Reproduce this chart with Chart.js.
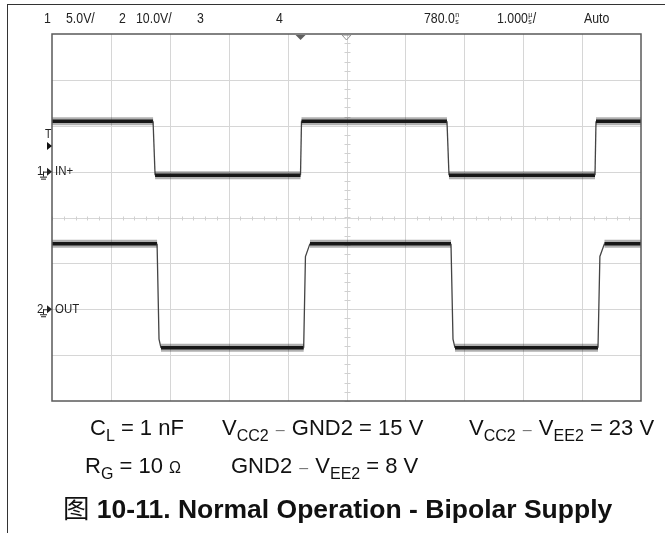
<!DOCTYPE html>
<html>
<head>
<meta charset="utf-8">
<script src="https://cdn.jsdelivr.net/npm/chart.js@4.4.1/dist/chart.umd.min.js"></script>
<style>
  html, body { margin: 0; padding: 0; background: #fff; }
  #wrap { position: relative; width: 665px; height: 533px; overflow: hidden; }
  #scope { position: absolute; left: 0; top: 0; }
  .note { position: absolute; font-family: "Liberation Sans", Arial, sans-serif; font-size: 22px; color: #111; white-space: nowrap; line-height: 1; }
  .note sub { font-size: 16px; vertical-align: -6px; line-height: 0; }
  .note .dash { color: #777; font-size: 16px; margin: 0 1px; }
  .note .ohm { font-size: 16px; }
  .caption { position: absolute; left: 63px; top: 494px; font-family: "Liberation Sans", Arial, sans-serif; font-weight: bold; font-size: 26.5px; color: #111; white-space: nowrap; line-height: 1; }
  .caption .cjk { font-family: "Noto Sans CJK SC", sans-serif; font-weight: normal; }
  .frame-l { position: absolute; left: 7px; top: 4px; width: 1px; height: 529px; background: #333; }
  .frame-t { position: absolute; left: 7px; top: 4px; width: 658px; height: 1px; background: #333; }
</style>
</head>
<body>
<div id="wrap">
  <div class="frame-l"></div>
  <div class="frame-t"></div>
  <canvas id="scope" width="665" height="533"></canvas>
  <div class="note" style="left:90px; top:417px;">C<sub>L</sub> = 1 nF</div>
  <div class="note" style="left:222px; top:417px;">V<sub>CC2</sub> <span class="dash">–</span> GND2 = 15 V</div>
  <div class="note" style="left:469px; top:417px;">V<sub>CC2</sub> <span class="dash">–</span> V<sub>EE2</sub> = 23 V</div>
  <div class="note" style="left:85px; top:455px;">R<sub>G</sub> = 10 <span class="ohm">Ω</span></div>
  <div class="note" style="left:231px; top:455px;">GND2 <span class="dash">–</span> V<sub>EE2</sub> = 8 V</div>
  <div class="caption"><span class="cjk">图</span> 10-11. Normal Operation - Bipolar Supply</div>
</div>
<script>
// channel settings (V/div and ground offset in divisions)
const ch1VoltsPerDiv = 5;
const ch1OffsetDiv = 1;
const ch2VoltsPerDiv = 10;
const ch2OffsetDiv = -2;

// time base: 1 us/div, trigger delay
const timeMin = -5;
const timeMax = 5;
const triggerDelayUs = -0.78;

// IN+ (channel 1), time in us, level in V
const inTime  = [-5, -3.284, -3.250, -0.781, -0.764, 1.706, 1.740, 4.219, 4.236, 5];
const inVolts = [5.5, 5.5, -0.4, -0.4, 5.5, 5.5, -0.4, -0.4, 5.5, 5.5];

// OUT (channel 2)
const outTime  = [-5, -3.216, -3.183, -3.150, -0.727, -0.697, -0.620, 1.774, 1.808, 1.842, 4.270, 4.302, 4.380, 5];
const outVolts = [14.3, 14.3, -6.5, -8.4, -8.4, 11.5, 14.3, 14.3, -6.5, -8.4, -8.4, 11.5, 14.3, 14.3];

// header readout
const headerItems = [
  { text: '1', x: 44 }, { text: '5.0V/', x: 66 },
  { text: '2', x: 119 }, { text: '10.0V/', x: 136 },
  { text: '3', x: 197 }, { text: '4', x: 276 },
  { text: '780.0', x: 424, unit: ['n', 's'] },
  { text: '1.000', x: 497, unit: ['µ', 's'], tail: '/' },
  { text: 'Auto', x: 584 }
];

const toPoints = (t, v, vdiv, off) => t.map((x, i) => ({ x: x, y: v[i] / vdiv + off }));
const inPts = toPoints(inTime, inVolts, ch1VoltsPerDiv, ch1OffsetDiv);
const outPts = toPoints(outTime, outVolts, ch2VoltsPerDiv, ch2OffsetDiv);

const isEdge = c => Math.abs(c.p0.parsed.y - c.p1.parsed.y) > 0.05;

function trace(pts, halo) {
  return {
    data: pts,
    borderColor: halo ? 'rgba(30,30,30,0.35)' : '#151515',
    borderWidth: halo ? 8 : 3.5,
    pointRadius: 0,
    tension: 0,
    segment: {
      borderWidth: c => isEdge(c) ? (halo ? 0 : 1.3) : undefined,
      borderColor: c => isEdge(c) ? (halo ? 'rgba(0,0,0,0)' : '#444') : undefined
    }
  };
}

const scopeFont = '"Liberation Sans", Arial, sans-serif';

// narrow scope lettering: draw with a horizontal squeeze
function scopeText(ctx, text, x, y, size, squeeze) {
  ctx.save();
  ctx.translate(x, y);
  ctx.scale(squeeze, 1);
  ctx.font = size + 'px ' + scopeFont;
  ctx.fillText(text, 0, 0);
  const w = ctx.measureText(text).width * squeeze;
  ctx.restore();
  return w;
}

// graticule, borders, markers and readouts of the scope screen
const screenPlugin = {
  id: 'screen',
  beforeDatasetsDraw(chart) {
    const { ctx, chartArea: a, scales: { x, y } } = chart;
    ctx.save();
    ctx.strokeStyle = '#d6d6d6';
    ctx.lineWidth = 1;
    for (let t = timeMin + 1; t < timeMax; t++) {
      const px = Math.round(x.getPixelForValue(t)) + 0.5;
      ctx.beginPath(); ctx.moveTo(px, a.top); ctx.lineTo(px, a.bottom); ctx.stroke();
    }
    for (let d = -3; d <= 3; d++) {
      const py = Math.round(y.getPixelForValue(d)) + 0.5;
      ctx.beginPath(); ctx.moveTo(a.left, py); ctx.lineTo(a.right, py); ctx.stroke();
    }
    // minor ticks on the centre axes
    const cx = Math.round(x.getPixelForValue(0)) + 0.5;
    const cy = Math.round(y.getPixelForValue(0)) + 0.5;
    ctx.strokeStyle = '#d0d0d0';
    for (let d = -4; d <= 4; d += 0.2) {
      const py = Math.round(y.getPixelForValue(d)) + 0.5;
      ctx.beginPath(); ctx.moveTo(cx - 3, py); ctx.lineTo(cx + 3, py); ctx.stroke();
    }
    for (let t = -5; t <= 5; t += 0.2) {
      const px = Math.round(x.getPixelForValue(t)) + 0.5;
      ctx.beginPath(); ctx.moveTo(px, cy - 2); ctx.lineTo(px, cy + 2); ctx.stroke();
    }
    ctx.restore();
  },
  afterDatasetsDraw(chart) {
    const { ctx, chartArea: a, scales: { x, y } } = chart;
    ctx.save();
    // plot frame
    ctx.strokeStyle = '#5a5a5a';
    ctx.lineWidth = 1.5;
    ctx.strokeRect(a.left, a.top, a.right - a.left, a.bottom - a.top);

    // trigger position markers on top edge
    const tx = x.getPixelForValue(triggerDelayUs);
    ctx.fillStyle = '#606060';
    ctx.beginPath(); ctx.moveTo(tx - 5, a.top + 1); ctx.lineTo(tx + 5, a.top + 1); ctx.lineTo(tx, a.top + 6); ctx.closePath(); ctx.fill();
    const cx = x.getPixelForValue(0);
    ctx.strokeStyle = '#909090';
    ctx.lineWidth = 1;
    ctx.beginPath(); ctx.moveTo(cx - 4.5, a.top + 1); ctx.lineTo(cx + 4.5, a.top + 1); ctx.lineTo(cx, a.top + 6); ctx.closePath(); ctx.stroke();

    // header readout
    ctx.fillStyle = '#222';
    ctx.textBaseline = 'middle';
    ctx.textAlign = 'left';
    headerItems.forEach(h => {
      let w = scopeText(ctx, h.text, h.x, 19, 14, 0.88);
      if (h.unit) {
        scopeText(ctx, h.unit[0], h.x + w + 0.5, 15.5, 7, 1);
        scopeText(ctx, h.unit[1], h.x + w + 0.5, 22, 7, 1);
        w += 5;
        if (h.tail) scopeText(ctx, h.tail, h.x + w, 19, 14, 0.88);
      }
    });

    // trigger level marker
    const lvl = y.getPixelForValue(1.56);
    scopeText(ctx, 'T', a.left - 7, lvl - 11, 12, 0.88);
    ctx.fillStyle = '#111';
    ctx.beginPath(); ctx.moveTo(a.left - 5, lvl - 4); ctx.lineTo(a.left, lvl); ctx.lineTo(a.left - 5, lvl + 4); ctx.closePath(); ctx.fill();

    // channel ground markers
    [[ch1OffsetDiv, '1', 'IN+'], [ch2OffsetDiv, '2', 'OUT']].forEach(([off, num, name]) => {
      const py = y.getPixelForValue(off);
      ctx.fillStyle = '#222';
      scopeText(ctx, num, a.left - 15, py, 13, 0.88);
      scopeText(ctx, name, a.left + 3, py, 13, 0.88);
      ctx.beginPath(); ctx.moveTo(a.left - 5, py - 4); ctx.lineTo(a.left, py); ctx.lineTo(a.left - 5, py + 4); ctx.closePath(); ctx.fill();
      // ground symbol
      ctx.strokeStyle = '#222';
      ctx.lineWidth = 1;
      ctx.beginPath();
      ctx.moveTo(a.left - 9, py + 0.5); ctx.lineTo(a.left - 5, py + 0.5);
      ctx.moveTo(a.left - 8.5, py); ctx.lineTo(a.left - 8.5, py + 5);
      ctx.moveTo(a.left - 12, py + 5.5); ctx.lineTo(a.left - 5, py + 5.5);
      ctx.moveTo(a.left - 11, py + 7.5); ctx.lineTo(a.left - 6, py + 7.5);
      ctx.stroke();
    });
    ctx.restore();
  }
};

new Chart(document.getElementById('scope'), {
  type: 'line',
  data: {
    datasets: [trace(inPts, true), trace(inPts, false), trace(outPts, true), trace(outPts, false)]
  },
  options: {
    responsive: false,
    animation: false,
    parsing: false,
    layout: { padding: { left: 52, top: 34, right: 24, bottom: 132 } },
    plugins: { legend: { display: false }, tooltip: { enabled: false } },
    scales: {
      x: { type: 'linear', min: timeMin, max: timeMax, display: false },
      y: { type: 'linear', min: -4, max: 4, display: false }
    }
  },
  plugins: [screenPlugin]
});
</script>
</body>
</html>
